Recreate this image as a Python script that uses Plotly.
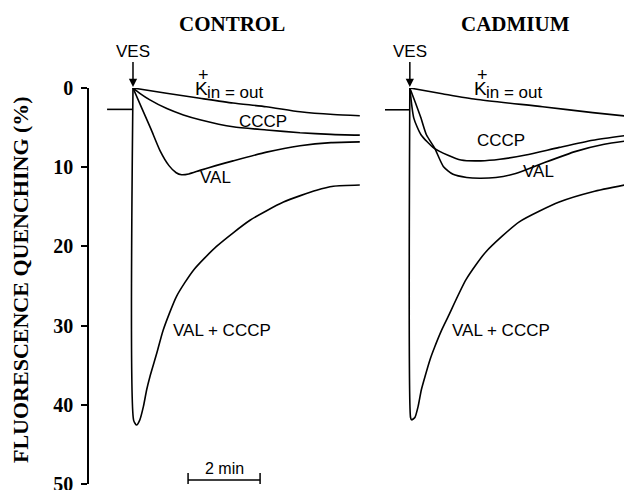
import plotly.graph_objects as go

# ---------------- data (time in min after vesicle addition, quenching in %) ----------------
# CONTROL panel
ctrl_base_t = [-0.72, 0.0]
ctrl_base_q = [2.7, 2.7]

ctrl_k_t = [0, 0.93, 1.86, 2.78, 3.7, 4.64, 5.57, 6.3]
ctrl_k_q = [0, 0.67, 1.3, 1.9, 2.36, 3.0, 3.35, 3.5]

ctrl_cccp_t = [0, 0.2, 0.47, 0.94, 1.4, 1.86, 2.78, 3.71, 4.64, 5.5, 6.3]
ctrl_cccp_q = [0, 0.7, 1.5, 2.6, 3.4, 4.0, 4.9, 5.3, 5.65, 5.85, 5.95]

ctrl_val_t = [0, 0.25, 0.5, 0.75, 1.0, 1.2, 1.35, 1.55, 1.86, 2.3, 2.78, 3.71, 4.64, 5.5, 6.3]
ctrl_val_q = [0, 2.6, 5.2, 7.9, 9.8, 10.7, 10.95, 10.85, 10.4, 9.8, 9.2, 8.1, 7.3, 6.9, 6.8]

ctrl_vc_t = [0, 0.02, 0.1, 0.19, 0.29, 0.38, 0.47, 0.66, 0.84, 1.21, 1.68, 2.32, 3.25, 4.18, 5.1, 5.57, 6.3]
ctrl_vc_q = [0, 42.0, 42.55, 41.9, 40.2, 38.1, 36.45, 33.5, 30.55, 26.3, 23.0, 20.0, 16.7, 14.4, 12.9, 12.4, 12.25]

# CADMIUM panel
cad_base_t = [-0.69, 0.0]
cad_base_q = [2.75, 2.75]

cad_k_t = [0, 0.9, 1.83, 3.69, 5.08, 6.17]
cad_k_q = [0, 0.72, 1.43, 2.36, 3.11, 3.63]

cad_cccp_t = [0, 0.11, 0.31, 0.67, 1.06, 1.42, 1.97, 2.5, 3.22, 4.15, 5.08, 6.17]
cad_cccp_q = [0, 3.8, 5.9, 7.6, 8.5, 9.1, 9.2, 9.0, 8.46, 7.5, 6.6, 5.9]

cad_val_t = [0, 0.15, 0.31, 0.46, 0.69, 0.93, 1.2, 1.58, 1.94, 2.39, 2.94, 3.69, 4.61, 5.4, 6.17]
cad_val_q = [0, 1.8, 3.8, 5.9, 7.6, 9.9, 10.9, 11.3, 11.4, 11.3, 10.8, 9.5, 8.0, 7.1, 6.6]

cad_vc_t = [0, 0.02, 0.05, 0.14, 0.23, 0.32, 0.42, 0.56, 0.69, 0.88, 1.06, 1.56, 2.11, 3.04, 4.15, 5.08, 6.14]
cad_vc_q = [0, 41.6, 41.9, 41.6, 40.2, 38.1, 36.45, 34.3, 32.7, 30.6, 28.9, 24.2, 20.7, 16.9, 14.4, 13.1, 12.1]

y_ticks = [0, 10, 20, 30, 40, 50]
y_tick_labels = ["0", "10", "20", "30", "40", "50"]

# ---------------- layout helpers ----------------
CAD_OFFSET = 7.69        # time offset of the cadmium traces on the shared axis
X_RANGE = [-1.222, 13.861]
LINE = dict(color="black", width=1.6)
SANS = "Liberation Sans, Arial, sans-serif"
SERIF = "Liberation Serif, Times New Roman, serif"

fig = go.Figure()

def add(t, q, off=0.0, shape="spline"):
    fig.add_trace(go.Scatter(
        x=[v + off for v in t], y=q, mode="lines",
        line=dict(LINE, shape=shape, smoothing=0.6),
        showlegend=False, hoverinfo="skip"))

add(ctrl_base_t, ctrl_base_q, shape="linear")
add(ctrl_k_t, ctrl_k_q)
add(ctrl_cccp_t, ctrl_cccp_q)
add(ctrl_val_t, ctrl_val_q)
add(ctrl_vc_t, ctrl_vc_q)
add(cad_base_t, cad_base_q, CAD_OFFSET, shape="linear")
add(cad_k_t, cad_k_q, CAD_OFFSET)
add(cad_cccp_t, cad_cccp_q, CAD_OFFSET)
add(cad_val_t, cad_val_q, CAD_OFFSET)
add(cad_vc_t, cad_vc_q, CAD_OFFSET)

ann = []

def label(x, y, text, size=17, yref="y", **kw):
    d = dict(x=x, y=y, xref="x", yref=yref, text=text, showarrow=False,
             yanchor="middle", font=dict(family=SANS, size=size, color="black"))
    d.update(kw)
    ann.append(d)

for off in (0.0, CAD_OFFSET):
    # VES arrow
    ann.append(dict(x=off, y=0, xref="x", yref="y", text="VES", showarrow=True,
                    ax=0, ay=-37, arrowhead=2, arrowsize=1.1, arrowwidth=1.5,
                    arrowcolor="black", standoff=1,
                    font=dict(family=SANS, size=17, color="black")))

# K+ in = out labels (K, superscript + and subscript placed separately)
for k_left in (1.68, 1.81 + CAD_OFFSET - 0.08):
    label(k_left, 0.05, "K", size=19, xanchor="left")
    label(k_left + 0.33, 0.55, "in = out", size=17, xanchor="left")
    label(k_left + 0.29, (484 - 75) / 396, "+", size=18, yref="paper", xanchor="center")

label(3.61, 4.17, "CCCP")
label(2.28, 11.36, "VAL")
label(2.47, 30.56, "VAL + CCCP")
label(2.61 + CAD_OFFSET - 0.08, 6.57, "CCCP")
label(3.64 + CAD_OFFSET - 0.08, 10.6, "VAL")
label(2.61 + CAD_OFFSET - 0.08, 30.56, "VAL + CCCP")

# scale bar
SB_X0, SB_X1, SB_Y = 1.53, 3.53, 49.5
shapes = [
    dict(type="line", xref="x", yref="y", x0=SB_X0, x1=SB_X1, y0=SB_Y, y1=SB_Y, line=dict(color="black", width=1.5)),
    dict(type="line", xref="x", yref="y", x0=SB_X0, x1=SB_X0, y0=SB_Y - 0.9, y1=SB_Y + 0.9, line=dict(color="black", width=1.5)),
    dict(type="line", xref="x", yref="y", x0=SB_X1, x1=SB_X1, y0=SB_Y - 0.9, y1=SB_Y + 0.9, line=dict(color="black", width=1.5)),
]
label((SB_X0 + SB_X1) / 2, 48.1, "2 min", size=16)

# panel titles
ann.append(dict(x=(232 - 89) / 543, y=(484 - 24) / 396, xref="paper", yref="paper", text="CONTROL",
                xanchor="center", yanchor="middle", showarrow=False,
                font=dict(family=SERIF, size=21, color="black", weight="bold")))
ann.append(dict(x=(515 - 89) / 543, y=(484 - 24) / 396, xref="paper", yref="paper", text="CADMIUM",
                xanchor="center", yanchor="middle", showarrow=False,
                font=dict(family=SERIF, size=21, color="black", weight="bold")))
# y title
ann.append(dict(x=(20 - 89) / 543, y=(484 - 280) / 396, xref="paper", yref="paper",
                xanchor="center", yanchor="middle",
                text="FLUORESCENCE QUENCHING (%)", textangle=-90, showarrow=False,
                font=dict(family=SERIF, size=22, color="black", weight="bold")))

fig.update_layout(
    width=632, height=490,
    margin=dict(l=81, r=8, t=80, b=14, autoexpand=False),
    paper_bgcolor="white", plot_bgcolor="white",
    annotations=ann, shapes=shapes,
    xaxis=dict(range=X_RANGE, visible=False, fixedrange=True),
    yaxis=dict(range=[50, 0], tickvals=y_ticks, ticktext=y_tick_labels, automargin=False,
               showline=True, linecolor="black", linewidth=1.5,
               ticks="outside", ticklen=6, tickwidth=1.5, tickcolor="black",
               showgrid=False, zeroline=False, ticklabelstandoff=4,
               tickfont=dict(family=SERIF, size=20, color="black", weight="bold")),
)

fig.write_html("out.html")
